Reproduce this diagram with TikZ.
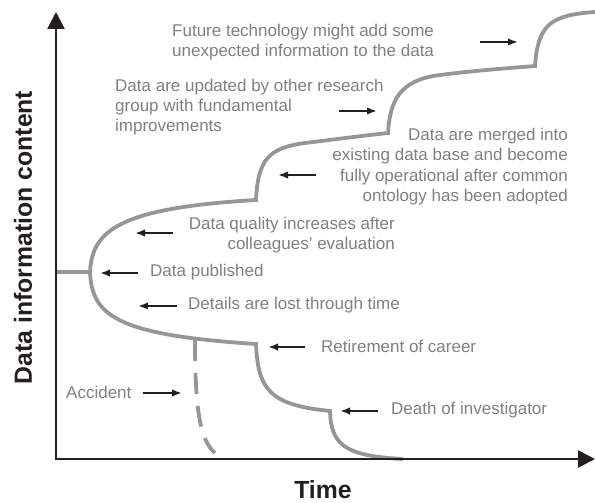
\documentclass[tikz,border=0pt]{standalone}
\usepackage{fontspec}
\setmainfont{Liberation Sans}
\usetikzlibrary{arrows.meta}
\definecolor{txtgray}{RGB}{128,128,128}
\definecolor{curvegray}{RGB}{150,150,150}
\definecolor{axisblack}{RGB}{35,31,32}
\begin{document}
\begin{tikzpicture}[x=1pt,y=-1pt,
  lbl/.style={text=txtgray, inner sep=0pt, font=\fontsize{17}{20.3}\selectfont},
  arr/.style={draw=axisblack, line width=2pt, -{Latex[length=10pt,width=7.5pt]}},
  curve/.style={draw=curvegray, line width=3.8pt},
  axis/.style={draw=axisblack, line width=2.7pt, line join=miter, {Triangle[length=17pt,width=17pt]}-{Triangle[length=17pt,width=17pt]}},
  axlbl/.style={font=\fontsize{24.8}{28}\selectfont\bfseries, text=axisblack, inner sep=0pt}]
\useasboundingbox (0,0) rectangle (595,503);

% curve
\draw[curve] (56,272) -- (90,272)
  .. controls (92,230) and (120,208) .. (256,200)
  .. controls (258,160) and (268,148) .. (305,143)
  .. controls (330,140) and (360,136) .. (388,133)
  .. controls (390,100) and (400,80) .. (440,75)
  .. controls (470,71) and (510,68) .. (535,66)
  .. controls (538,25) and (550,15) .. (595,12);
\draw[curve] (90,272)
  .. controls (92,315) and (115,335) .. (256,344)
  .. controls (258,390) and (270,405) .. (330,411)
  .. controls (331,445) and (345,456) .. (403,459);
\draw[curve, dash pattern=on 21pt off 12pt] (195,340)
  .. controls (195,410) and (200,440) .. (215,453);

% axes
\coordinate (ytop) at (56,12);
\coordinate (origin) at (56,459);
\coordinate (xend) at (595,459);
\draw[axis] (ytop) -- (origin) -- (xend);

\node[axlbl, rotate=90] (ylab) at (23,237.5) {Data information content};
\node[axlbl] (xlab) at (323,489.5) {Time};

% labels
\node[lbl, anchor=west, align=left] (future) at (172,42) {Future technology might add some\\unexpected information to the data};
\node[lbl, anchor=west, align=left] (updated) at (115,107) {Data are updated by other research\\group with fundamental\\improvements};
\node[lbl, anchor=east, align=right] (merged) at (568,166.5) {Data are merged into\\existing data base and become\\fully operational after common\\ontology has been adopted};
\node[lbl, anchor=east, align=right] (quality) at (395,235) {Data quality increases after\\colleagues' evaluation};
\node[lbl, anchor=west] (published) at (150,272) {Data published};
\node[lbl, anchor=west] (details) at (188,305) {Details are lost through time};
\node[lbl, anchor=west] (retire) at (321,346) {Retirement of career};
\node[lbl, anchor=west] (accident) at (66,392) {Accident};
\node[lbl, anchor=west] (death) at (391,410) {Death of investigator};

% arrows
\coordinate (f1) at (480,42); \coordinate (f2) at (518,42);
\coordinate (u1) at (339,111); \coordinate (u2) at (377,111);
\coordinate (m1) at (316,175); \coordinate (m2) at (278,175);
\coordinate (q1) at (173,233); \coordinate (q2) at (135,233);
\coordinate (p1) at (138,273); \coordinate (p2) at (100,273);
\coordinate (d1) at (177,306); \coordinate (d2) at (138,306);
\coordinate (r1) at (305,347); \coordinate (r2) at (268,347);
\coordinate (a1) at (143,393); \coordinate (a2) at (182,393);
\coordinate (i1) at (378,411); \coordinate (i2) at (340,411);
\draw[arr] (f1) -- (f2);
\draw[arr] (u1) -- (u2);
\draw[arr] (m1) -- (m2);
\draw[arr] (q1) -- (q2);
\draw[arr] (p1) -- (p2);
\draw[arr] (d1) -- (d2);
\draw[arr] (r1) -- (r2);
\draw[arr] (a1) -- (a2);
\draw[arr] (i1) -- (i2);
\end{tikzpicture}
\end{document}
